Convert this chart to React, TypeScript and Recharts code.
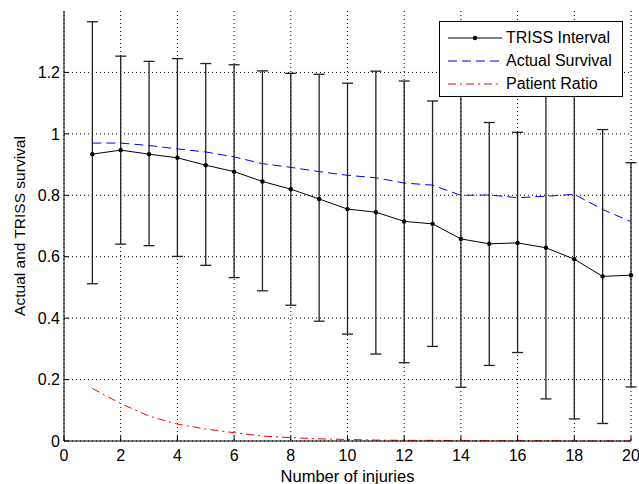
import { LineChart, Line, XAxis, YAxis, CartesianGrid, ErrorBar, Label } from 'recharts';

const injuries = [1, 2, 3, 4, 5, 6, 7, 8, 9, 10, 11, 12, 13, 14, 15, 16, 17, 18, 19, 20];
const trissMean = [0.934, 0.947, 0.934, 0.922, 0.898, 0.877, 0.845, 0.82, 0.788, 0.755, 0.745, 0.715, 0.707, 0.658, 0.642, 0.645, 0.629, 0.592, 0.536, 0.54];
const trissLow = [0.512, 0.641, 0.636, 0.601, 0.572, 0.532, 0.489, 0.442, 0.39, 0.348, 0.283, 0.255, 0.308, 0.175, 0.246, 0.288, 0.137, 0.072, 0.057, 0.176];
const trissHigh = [1.365, 1.253, 1.236, 1.245, 1.229, 1.225, 1.205, 1.197, 1.194, 1.165, 1.204, 1.172, 1.107, 1.145, 1.037, 1.005, 1.135, 1.13, 1.014, 0.906];
const actualSurvival = [0.97, 0.97, 0.962, 0.951, 0.941, 0.925, 0.903, 0.891, 0.877, 0.865, 0.857, 0.84, 0.833, 0.8, 0.801, 0.792, 0.797, 0.803, 0.754, 0.714];
const patientRatio = [0.171, 0.122, 0.081, 0.055, 0.039, 0.027, 0.016, 0.011, 0.007, 0.005, 0.003, 0.002, 0.002, 0.001, 0.001, 0.001, 0.001, 0, 0, 0];
const xTicks = [0, 2, 4, 6, 8, 10, 12, 14, 16, 18, 20];
const yTicks = [0, 0.2, 0.4, 0.6, 0.8, 1, 1.2];
const xDomain = [0, 20];
const yDomain = [0, 1.4];

const data = injuries.map((n, i) => ({
  n,
  triss: trissMean[i],
  err: [trissMean[i] - trissLow[i], trissHigh[i] - trissMean[i]],
  actual: actualSurvival[i],
  ratio: patientRatio[i],
}));

const font = '"Liberation Sans", Arial, sans-serif';
const tickStyle = { fill: '#000', fontSize: 16, fontFamily: font };

// grid lines at the axis ticks, mapped through the plot area
const gridX = ({ offset }: any) =>
  xTicks.map((t) => offset.left + ((t - xDomain[0]) / (xDomain[1] - xDomain[0])) * offset.width);
const gridY = ({ offset }: any) =>
  yTicks.map((t) => offset.top + offset.height - ((t - yDomain[0]) / (yDomain[1] - yDomain[0])) * offset.height);

function LegendBox() {
  const rows = [
    { label: 'TRISS Interval', color: '#000', dash: undefined, dot: true },
    { label: 'Actual Survival', color: '#0000ff', dash: '9 5', dot: false },
    { label: 'Patient Ratio', color: '#ff0000', dash: '8 4 2 4', dot: false },
  ];
  return (
    <div
      style={{
        position: 'absolute',
        left: 439,
        top: 21,
        width: 184,
        height: 76,
        background: '#fff',
        border: '1px solid #000',
        boxSizing: 'border-box',
        fontFamily: font,
        fontSize: 16,
        paddingTop: 4,
      }}
    >
      {rows.map((r) => (
        <div key={r.label} style={{ display: 'flex', alignItems: 'center', height: 23 }}>
          <svg width={66} height={12} style={{ flex: 'none' }}>
            <line x1={8} y1={6} x2={62} y2={6} stroke={r.color} strokeWidth={1} strokeDasharray={r.dash} />
            {r.dot && <circle cx={35} cy={6} r={2.2} fill="#000" />}
          </svg>
          <span>{r.label}</span>
        </div>
      ))}
    </div>
  );
}

export default function App() {
  return (
    <div style={{ position: 'absolute', left: 0, top: 0, width: 639, height: 484, background: '#fff' }}>
      <LineChart width={639} height={484} data={data} margin={{ top: 11, right: 8, bottom: 0, left: 0 }}>
        <CartesianGrid
          stroke="#000"
          strokeDasharray="1 3"
          strokeWidth={1}
          verticalCoordinatesGenerator={gridX}
          horizontalCoordinatesGenerator={gridY}
        />
        <XAxis
          dataKey="n"
          type="number"
          domain={xDomain}
          ticks={xTicks}
          height={43}
          axisLine={{ stroke: '#000' }}
          tickLine={{ stroke: '#000' }}
          tickSize={-5}
          tickMargin={14}
          tick={tickStyle}
        >
          <Label value="Number of injuries" position="insideBottom" offset={2} style={{ fill: '#000', fontSize: 16.5, fontFamily: font }} />
        </XAxis>
        <XAxis
          xAxisId="t"
          orientation="top"
          dataKey="n"
          type="number"
          domain={xDomain}
          ticks={xTicks}
          height={0}
          axisLine={{ stroke: '#000' }}
          tickLine={{ stroke: '#000' }}
          tickSize={-5}
          tickFormatter={() => ''}
        />
        <YAxis
          type="number"
          domain={yDomain}
          ticks={yTicks}
          width={64}
          axisLine={{ stroke: '#000' }}
          tickLine={{ stroke: '#000' }}
          tickSize={-5}
          tickMargin={9}
          tick={tickStyle}
        >
          <Label
            value="Actual and TRISS survival"
            angle={-90}
            position="insideLeft"
            offset={19}
            style={{ textAnchor: 'middle', fill: '#000', fontSize: 15.5, fontFamily: font }}
          />
        </YAxis>
        <YAxis
          yAxisId="r"
          orientation="right"
          type="number"
          domain={yDomain}
          ticks={yTicks}
          width={0}
          axisLine={{ stroke: '#000' }}
          tickLine={{ stroke: '#000' }}
          tickSize={-5}
          tickFormatter={() => ''}
        />
        <Line
          dataKey="ratio"
          stroke="#ff0000"
          strokeWidth={1}
          strokeDasharray="8 4 2 4"
          dot={false}
          activeDot={false}
          isAnimationActive={false}
        />
        <Line
          dataKey="actual"
          stroke="#0000ff"
          strokeWidth={1}
          strokeDasharray="9 5"
          dot={false}
          activeDot={false}
          isAnimationActive={false}
        />
        <Line
          dataKey="triss"
          stroke="#000"
          strokeWidth={1}
          dot={{ r: 2.2, fill: '#000', stroke: '#000', strokeWidth: 0 }}
          activeDot={false}
          isAnimationActive={false}
        >
          <ErrorBar dataKey="err" direction="y" width={5.5} stroke="#222" strokeWidth={1.3} />
        </Line>
      </LineChart>
      <LegendBox />
    </div>
  );
}
